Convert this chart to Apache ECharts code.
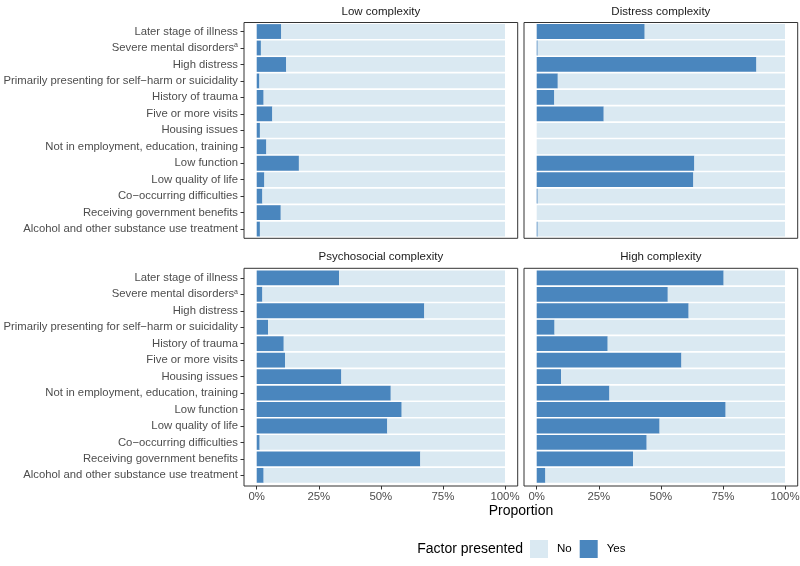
<!DOCTYPE html>
<html>
<head>
<meta charset="utf-8">
<script src="https://cdn.jsdelivr.net/npm/echarts@6/dist/echarts.min.js"></script>
<style>
  html, body { margin: 0; padding: 0; background: #fff; }
  #chart { width: 800px; height: 566px; }
</style>
</head>
<body>
<div id="chart"></div>
<script>
// factors, top to bottom
const categories = [
  'Later stage of illness',
  'Severe mental disordersᵃ',
  'High distress',
  'Primarily presenting for self−harm or suicidality',
  'History of trauma',
  'Five or more visits',
  'Housing issues',
  'Not in employment, education, training',
  'Low function',
  'Low quality of life',
  'Co−occurring difficulties',
  'Receiving government benefits',
  'Alcohol and other substance use treatment'
]
const panelNames = ['Low complexity', 'Distress complexity', 'Psychosocial complexity', 'High complexity']

// % "Yes" per factor
const lowYes = [9.9, 1.7, 11.9, 1.1, 2.8, 6.3, 1.3, 3.9, 17.0, 3.1, 2.3, 9.7, 1.3]
const distressYes = [43.5, 0.4, 88.5, 8.5, 7.1, 27.0, 0, 0, 63.5, 63.1, 0.4, 0, 0.4]
const psychosocialYes = [33.2, 2.3, 67.5, 4.6, 10.9, 11.4, 34.1, 54.0, 58.4, 52.6, 1.2, 65.9, 2.8]
const highYes = [75.3, 52.8, 61.2, 7.2, 28.6, 58.3, 9.8, 29.3, 76.1, 49.5, 44.3, 38.8, 3.5]
const xTicks = [0, 25, 50, 75, 100]

const yesColor = '#4A86BE'
const noColor = '#DAE9F2'
const textGrey = '#4D4D4D'
const fontFamily = 'Liberation Sans, Arial, sans-serif'

const panelData = [lowYes, distressYes, psychosocialYes, highYes]

// panel frames (x, y, w, h) and plotting areas inside
const frames = [
  {x: 244, y: 22.5, w: 273.7, h: 215.8},
  {x: 524, y: 22.5, w: 273.7, h: 215.8},
  {x: 244, y: 268.3, w: 273.7, h: 217.7},
  {x: 524, y: 268.3, w: 273.7, h: 217.7}
]
const grids = [
  {left: 256.7, top: 23.3, width: 248.3, height: 214, outerBoundsMode: 'none'},
  {left: 536.7, top: 23.3, width: 248.3, height: 214, outerBoundsMode: 'none'},
  {left: 256.7, top: 269.6, width: 248.3, height: 214, outerBoundsMode: 'none'},
  {left: 536.7, top: 269.6, width: 248.3, height: 214, outerBoundsMode: 'none'}
]

let myChart = echarts.init(document.getElementById('chart'), null, {renderer: 'canvas'})

let xAxes = [], yAxes = [], series = [], titles = [], graphics = []
panelData.forEach((yes, i) => {
    let bottomRow = i >= 2
    let leftCol = i % 2 === 0
    let g = grids[i]
    let f = frames[i]
    xAxes.push({
        type: 'value',
        gridIndex: i,
        min: 0,
        max: 100,
        interval: 25,
        offset: bottomRow ? (f.y + f.h) - (g.top + g.height) : 0,
        splitLine: {show: false},
        axisLine: {show: false, onZero: false},
        axisTick: {show: bottomRow, length: 3.5, lineStyle: {color: '#333'}},
        axisLabel: {
            show: bottomRow,
            margin: 5,
            color: textGrey,
            fontSize: 11.4,
            fontFamily: fontFamily,
            formatter: v => xTicks.includes(v) ? v + '%' : ''
        }
    })
    yAxes.push({
        type: 'category',
        gridIndex: i,
        inverse: true,
        data: categories,
        offset: g.left - f.x,
        axisLine: {show: false, onZero: false},
        axisTick: {show: leftCol, length: 3.5, alignWithLabel: true, lineStyle: {color: '#333'}},
        axisLabel: {
            show: leftCol,
            margin: 6,
            interval: 0,
            color: textGrey,
            fontSize: 11.3,
            fontFamily: fontFamily,
            formatter: v => v.replace('ᵃ', '{sup|a}'),
            rich: {
                sup: {fontSize: 7, color: textGrey, fontFamily: fontFamily, verticalAlign: 'top', padding: [0, 0, 5, 0]}
            }
        }
    })
    series.push({
        name: 'Yes',
        type: 'bar',
        stack: 'p' + i,
        xAxisIndex: i,
        yAxisIndex: i,
        barCategoryGap: '10%',
        itemStyle: {color: yesColor},
        data: yes
    })
    series.push({
        name: 'No',
        type: 'bar',
        stack: 'p' + i,
        xAxisIndex: i,
        yAxisIndex: i,
        barCategoryGap: '10%',
        itemStyle: {color: noColor},
        data: yes.map(v => +(100 - v).toFixed(1))
    })
    titles.push({
        text: panelNames[i],
        left: f.x + f.w / 2,
        top: f.y - 17,
        padding: 0,
        textAlign: 'center',
        textStyle: {fontSize: 11.5, fontWeight: 'normal', color: '#1A1A1A', fontFamily: fontFamily}
    })
    graphics.push({
        type: 'rect',
        shape: {x: f.x, y: f.y, width: f.w, height: f.h},
        style: {fill: 'none', stroke: '#333', lineWidth: 1},
        z: 10
    })
})

graphics.push({
    type: 'text',
    x: 521, y: 511,
    style: {text: 'Proportion', fontSize: 14, fill: '#000', fontFamily: fontFamily, textAlign: 'center', textVerticalAlign: 'middle'}
})
graphics.push({
    type: 'text',
    x: 523, y: 549,
    style: {text: 'Factor presented', fontSize: 14, fill: '#000', fontFamily: fontFamily, textAlign: 'right', textVerticalAlign: 'middle'}
})

let options = {
    animation: false,
    backgroundColor: '#fff',
    title: titles,
    grid: grids,
    xAxis: xAxes,
    yAxis: yAxes,
    series: series,
    legend: {
        data: ['No', 'Yes'],
        left: 530,
        top: 540,
        padding: 0,
        icon: 'rect',
        itemWidth: 18,
        itemHeight: 18,
        itemGap: 8,
        textStyle: {fontSize: 11.5, color: '#000', fontFamily: fontFamily, padding: [0, 0, 0, 4]}
    },
    graphic: graphics
}
myChart.setOption(options)
</script>
</body>
</html>
